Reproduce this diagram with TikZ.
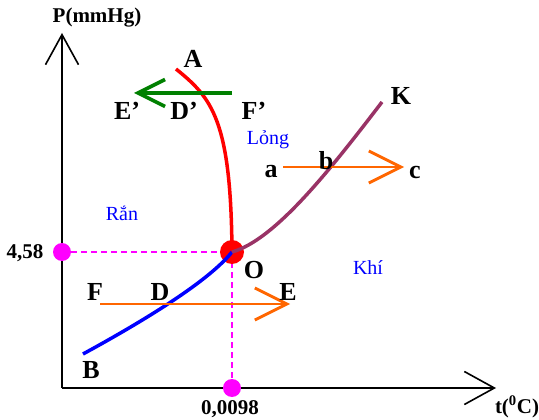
\documentclass[tikz,border=0pt]{standalone}
\usepackage{fontspec}
\setmainfont{Liberation Serif}
\usetikzlibrary{arrows.meta}
\definecolor{solidred}{HTML}{FF0000}
\definecolor{gasblue}{HTML}{0000FF}
\definecolor{boilpurple}{HTML}{993366}
\definecolor{pathgreen}{HTML}{008000}
\definecolor{pathorange}{HTML}{FF6600}
\definecolor{guide}{HTML}{FF00FF}
\tikzset{axisline/.style={line width=1.6pt,-{Straight Barb[length=30pt,width=33pt,line width=1.6pt]}},
 phaseline/.style={line width=3.5pt},
 pathline/.style={line width=2.8pt,-{Straight Barb[length=32pt,width=32pt,line width=2.8pt]}},
 guideline/.style={draw=guide,line width=1.4pt,dash pattern=on 6pt off 4pt},
 ptlabel/.style={font=\fontsize{26}{26}\selectfont\bfseries,inner sep=0pt},
 phaselabel/.style={font=\fontsize{20}{20}\selectfont,text=gasblue,inner sep=0pt},
 ticklabel/.style={font=\fontsize{21}{21}\selectfont\bfseries,inner sep=0pt}}

\begin{document}
\begin{tikzpicture}[x=1pt,y=-1pt]
\useasboundingbox (0,0) rectangle (539,420);
% axes
\coordinate (origin) at (62,388);
\coordinate (ptop) at (62,33);
\coordinate (tend) at (496,388);
\draw[axisline] (origin)--(ptop);
\draw[axisline] (origin)--(tend);
\node[ticklabel] (paxis) at (97,18) {P(mmHg)};
\node[ticklabel] (taxis) at (517,407) {t(\textsuperscript{0}C)};
% triple point and guides
\coordinate (O) at (232,252);
\node[circle,fill=guide,minimum size=18pt,inner sep=0pt] (pdot) at (62,252) {};
\node[circle,fill=guide,minimum size=18pt,inner sep=0pt] (tdot) at (232,388) {};
\draw[guideline] (pdot)--(O);
\draw[guideline] (O)--(tdot);
\fill[solidred] (O) circle (12pt);
\node[ticklabel] (pval) at (25,253) {4,58};
\node[ticklabel] (tval) at (230,409) {0,0098};
\node[ptlabel] (Olab) at (254,270) {O};
% phase boundaries
\coordinate (Aend) at (176,69);
\coordinate (Bend) at (83,354);
\coordinate (Kend) at (382,102);
\draw[phaseline,solidred] (Aend) .. controls (212,98) and (231,120) .. (O);
\draw[phaseline,gasblue] (O) .. controls (212,277) and (160,312) .. (Bend);
\draw[phaseline,boilpurple] (O) .. controls (275,240) and (330,170) .. (Kend);
\node[ptlabel] (Alab) at (193,59) {A};
\node[ptlabel] (Blab) at (91,370) {B};
\node[ptlabel] (Klab) at (401,96) {K};
% transformation paths
\coordinate (Fs) at (232,93);
\coordinate (Es) at (134,93);
\draw[pathline,pathgreen,line width=3.6pt,-{Straight Barb[length=27pt,width=27pt,line width=3.6pt]}] (Fs)--(Es);
\node[ptlabel] (Eplab) at (127,111) {E’};
\node[ptlabel] (Dplab) at (184,111) {D’};
\node[ptlabel] (Fplab) at (254,111) {F’};
\coordinate (as) at (283,167);
\coordinate (cs) at (404,167);
\draw[pathline,pathorange] (as)--(cs);
\node[ptlabel] (alab) at (271,172) {a};
\node[ptlabel] (blab) at (326,161) {b};
\node[ptlabel] (clab) at (415,172) {c};
\coordinate (Fp) at (100,304);
\coordinate (Ep) at (290,304);
\draw[pathline,pathorange] (Fp)--(Ep);
\node[ptlabel] (Flab) at (95,292) {F};
\node[ptlabel] (Dlab) at (160,292) {D};
\node[ptlabel] (Elab) at (288,292) {E};
% phase regions
\node[phaselabel] (solid) at (122,213) {Rắn};
\node[phaselabel] (liquid) at (268,140) {Lỏng};
\node[phaselabel] (gas) at (368,268) {Khí};
\end{tikzpicture}
\end{document}
